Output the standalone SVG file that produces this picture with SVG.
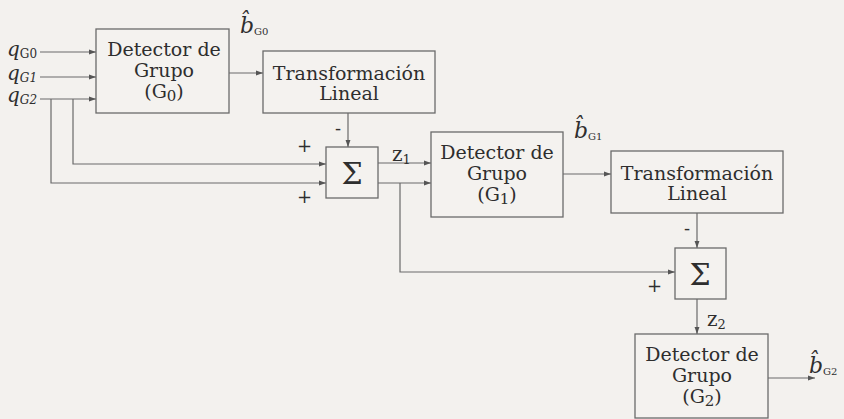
<svg xmlns="http://www.w3.org/2000/svg" width="844" height="419" viewBox="0 0 844 419">
<style>
.bg{fill:#f3f1ee}
.box{fill:#f4f2ef;stroke:#6a6a6a;stroke-width:1.3}
.t{font-family:"DejaVu Serif","Liberation Serif",serif;font-size:19px;fill:#2e2e2e;text-anchor:middle}
.s{font-family:"DejaVu Serif","Liberation Serif",serif;font-size:30px;fill:#2e2e2e;text-anchor:middle}
.l{font-family:"DejaVu Serif","Liberation Serif",serif;fill:#2e2e2e}
.i{font-style:italic}
.w{fill:none;stroke:#6a6a6a;stroke-width:1.2}
</style>
<defs>
<marker id="ah" viewBox="0 0 10 10" refX="10" refY="5" markerWidth="7" markerHeight="7" markerUnits="userSpaceOnUse" orient="auto">
<path d="M0,1.5 L10,5 L0,8.5 Z" fill="#555"/>
</marker>
</defs>
<rect class="bg" x="0" y="0" width="844" height="419"/>

<g id="connectors">
<path class="w" d="M40,52 H96" marker-end="url(#ah)"/>
<path class="w" d="M40,77 H96" marker-end="url(#ah)"/>
<path class="w" d="M40,99 H96" marker-end="url(#ah)"/>
<path class="w" d="M73,99 V164 H326" marker-end="url(#ah)"/>
<path class="w" d="M51,99 V183 H326" marker-end="url(#ah)"/>
<path class="w" d="M229,73 H263" marker-end="url(#ah)"/>
<path class="w" d="M348,113 V147" marker-end="url(#ah)"/>
<path class="w" d="M378,163 H431" marker-end="url(#ah)"/>
<path class="w" d="M378,183 H431" marker-end="url(#ah)"/>
<path class="w" d="M400,183 V272 H675" marker-end="url(#ah)"/>
<path class="w" d="M563,174 H611" marker-end="url(#ah)"/>
<path class="w" d="M697,213 V248" marker-end="url(#ah)"/>
<path class="w" d="M697,299 V334" marker-end="url(#ah)"/>
<path class="w" d="M768,378 H815" marker-end="url(#ah)"/>
</g>

<g id="inputs">
<text class="l" x="7" y="56" font-size="20"><tspan class="i">q</tspan><tspan font-size="12" dy="2">G0</tspan></text>
<text class="l" x="7" y="80" font-size="20"><tspan class="i">q</tspan><tspan class="i" font-size="12" dy="2">G1</tspan></text>
<text class="l" x="7" y="102" font-size="20"><tspan class="i">q</tspan><tspan class="i" font-size="12" dy="2">G2</tspan></text>
</g>

<g id="det0">
<rect class="box" x="96" y="29" width="133" height="84"/>
<text class="t" x="164" y="56">Detector de</text>
<text class="t" x="164" y="77">Grupo</text>
<text class="t" x="164" y="98">(G<tspan font-size="15" dy="3">0</tspan><tspan dy="-3">)</tspan></text>
</g>

<g id="bhat0">
<text class="l" x="240" y="33" font-size="22"><tspan class="i">b̂</tspan><tspan font-size="10" dy="2">G0</tspan></text>
</g>

<g id="trans0">
<rect class="box" x="263" y="51" width="172" height="62"/>
<text class="t" x="349" y="80">Transformación</text>
<text class="t" x="349" y="100">Lineal</text>
</g>

<g id="sum1">
<rect class="box" x="326" y="147" width="52" height="51"/>
<text class="s" x="352" y="184">Σ</text>
</g>
<g id="signs1">
<text class="l" x="297" y="152" font-size="18">+</text>
<text class="l" x="297" y="203" font-size="18">+</text>
<text class="l" x="335" y="135" font-size="18">-</text>
<text class="l" x="392" y="161" font-size="20">z<tspan font-size="13" dy="3">1</tspan></text>
</g>

<g id="det1">
<rect class="box" x="431" y="132" width="132" height="85"/>
<text class="t" x="497" y="159">Detector de</text>
<text class="t" x="497" y="180">Grupo</text>
<text class="t" x="497" y="201">(G<tspan font-size="15" dy="3">1</tspan><tspan dy="-3">)</tspan></text>
</g>

<g id="bhat1">
<text class="l" x="574" y="138" font-size="22"><tspan class="i">b̂</tspan><tspan font-size="10" dy="2">G1</tspan></text>
</g>

<g id="trans1">
<rect class="box" x="611" y="151" width="172" height="62"/>
<text class="t" x="697" y="180">Transformación</text>
<text class="t" x="697" y="200">Lineal</text>
</g>

<g id="sum2">
<rect class="box" x="675" y="248" width="51" height="51"/>
<text class="s" x="700" y="285">Σ</text>
</g>
<g id="signs2">
<text class="l" x="684" y="235" font-size="18">-</text>
<text class="l" x="647" y="292" font-size="18">+</text>
<text class="l" x="707" y="326" font-size="20">z<tspan font-size="13" dy="3">2</tspan></text>
</g>

<g id="det2">
<rect class="box" x="635" y="334" width="133" height="84"/>
<text class="t" x="702" y="361">Detector de</text>
<text class="t" x="702" y="382">Grupo</text>
<text class="t" x="702" y="403">(G<tspan font-size="15" dy="3">2</tspan><tspan dy="-3">)</tspan></text>
</g>

<g id="bhat2">
<text class="l" x="809" y="373" font-size="22"><tspan class="i">b̂</tspan><tspan font-size="10" dy="2">G2</tspan></text>
</g>
</svg>
